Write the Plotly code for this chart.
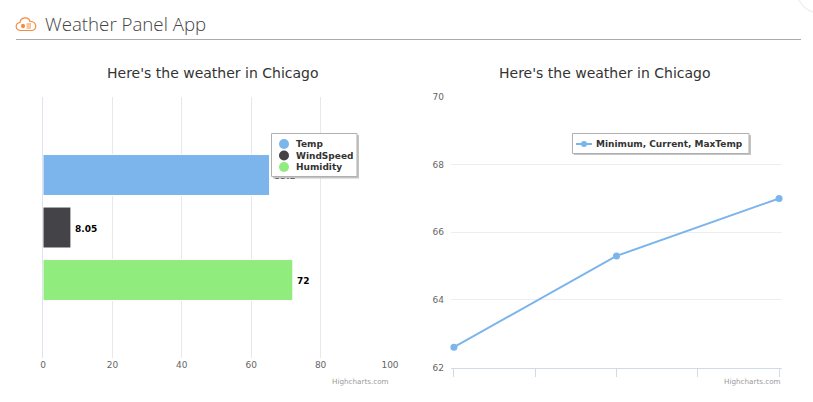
import plotly.graph_objects as go
from plotly.subplots import make_subplots

W, H = 813, 402

page_title = "Weather Panel App"
chart_title = "Here's the weather in Chicago"
credit = "Highcharts.com"

# left chart
bar_names = ["Temp", "WindSpeed", "Humidity"]
bar_slots = [0, 1, 2]
bar_values = [65.3, 8.05, 72]
bar_colors = ["#7cb5ec", "#434348", "#90ed7d"]
bar_ticks = [0, 20, 40, 60, 80, 100]

# right chart
line_name = "Minimum, Current, MaxTemp"
line_x = [0, 1, 2]
line_values = [62.6, 65.3, 67]
line_xticks = [0, 0.5, 1, 1.5, 2]
line_yticks = [62, 64, 66, 68, 70]

TICK_FONT = dict(family="DejaVu Sans", size=9, color="#666666")
BOLD = dict(family="DejaVu Sans", size=9, color="#333333", weight="bold")


def px(x):
    return x / W


def py(y):
    return 1 - y / H


def rect(x0, y0, x1, y1, **kw):
    return dict(type="rect", xref="paper", yref="paper", x0=px(x0), x1=px(x1), y0=py(y0), y1=py(y1), **kw)


def hline(x0, x1, y, color, width=1):
    return dict(type="line", xref="paper", yref="paper", x0=px(x0), x1=px(x1), y0=py(y), y1=py(y),
                line=dict(color=color, width=width))


def text(x, y, s, font, anchor="left"):
    return dict(xref="paper", yref="paper", x=px(x), y=py(y), text=s, showarrow=False, font=font,
                xanchor=anchor, yanchor="middle", borderpad=0)


def path(points, **kw):
    # points are (command, x, y, x, y...) in pixels, plotly wants paper units
    d = ""
    for p in points:
        d += p[0]
        vals = p[1:]
        for i in range(0, len(vals), 2):
            d += " %.5f,%.5f " % (px(vals[i]), py(vals[i + 1]))
    return dict(type="path", xref="paper", yref="paper", path=d, **kw)


fig = make_subplots(rows=1, cols=2)

for name, slot, val, col in zip(bar_names, bar_slots, bar_values, bar_colors):
    fig.add_trace(go.Bar(x=[val], y=[slot], name=name, orientation="h", width=0.78,
                         marker=dict(color=col, line=dict(color="#ffffff", width=1))), row=1, col=1)

# value labels sit a touch below the bar centre, as a trace so the legend box covers them
# the see-through marker is only there to push the text away from the bar end
fig.add_trace(go.Scatter(x=bar_values, y=[s + 0.04 for s in bar_slots], mode="markers+text",
                         text=[str(v) for v in bar_values], textposition="middle right", cliponaxis=False,
                         marker=dict(size=5, color="rgba(0,0,0,0)"),
                         textfont=dict(family="DejaVu Sans", size=9, color="#000000", weight="bold")),
              row=1, col=1)

fig.add_trace(go.Scatter(x=line_x, y=line_values, name=line_name, mode="lines+markers",
                         line=dict(color="#7cb5ec", width=2), marker=dict(color="#7cb5ec", size=7),
                         cliponaxis=False), row=1, col=2)

fig.update_xaxes(domain=[px(43), px(390)], range=[0, 100], tickvals=bar_ticks, showgrid=True, gridcolor="#e8e8e8",
                 gridwidth=1, zeroline=False, showline=False, ticks="", tickfont=TICK_FONT, automargin=False,
                 row=1, col=1)
fig.update_yaxes(domain=[py(357.5), py(97)], range=[3.476, -1.486], showticklabels=False,
                 showgrid=False, zeroline=False, showline=True, linecolor="#dde5f0", linewidth=1, ticks="",
                 automargin=False, row=1, col=1)

fig.update_xaxes(domain=[px(451), px(782)], range=[-0.018, 2.018], tickvals=line_xticks, ticktext=[""] * 5,
                 showgrid=False, zeroline=False, showline=True, linecolor="#d0daea", linewidth=1, ticks="outside",
                 ticklen=8, tickcolor="#d0daea", automargin=False, row=1, col=2)
fig.update_yaxes(domain=[py(367.5), py(97)], range=[62, 70], tickvals=line_yticks, showgrid=True, gridcolor="#eeeeee",
                 gridwidth=1, zeroline=False, showline=False, ticks="", tickfont=TICK_FONT, ticklabelstandoff=6,
                 automargin=False, row=1, col=2)

shapes = [
    hline(16, 801, 39.5, "#aaaaaa"),
    # cloud icon of the page header
    path([("M", 21, 30.5), ("C", 15, 30.5, 14.5, 23, 20, 22.5), ("C", 20.5, 17, 28.5, 16, 30, 21.5),
          ("C", 37, 21, 38, 30.5, 31, 30.5), ("Z",)], line=dict(color="#f58b3f", width=1.2)),
    path([("M", 21, 26), ("C", 21, 23, 25, 23, 25, 26), ("C", 25, 29, 21, 29, 21, 26), ("Z",)],
         line=dict(width=0), fillcolor="#f58b3f"),
    hline(26.5, 31, 24, "#f58b3f"),
    hline(26.5, 31, 26, "#f58b3f"),
    hline(26.5, 31, 28, "#f58b3f"),
    # faint corner at the top right of the screenshot
    path([("M", 799, 0), ("C", 802, 6, 807, 10, 813, 12)], line=dict(color="#f0f0f0", width=1.5)),
    # legend boxes
    rect(273, 135, 359, 178.5, fillcolor="#c4c4c4", line=dict(width=0), layer="above"),
    rect(271.5, 133.5, 357, 176.5, fillcolor="#ffffff", line=dict(color="#b0b0b0", width=1), layer="above"),
    rect(574, 135, 751, 155, fillcolor="#c4c4c4", line=dict(width=0), layer="above"),
    rect(572.5, 133.5, 749, 153.5, fillcolor="#ffffff", line=dict(color="#b0b0b0", width=1), layer="above"),
    hline(576, 592, 144, "#7cb5ec", 2),
    dict(type="circle", xref="paper", yref="paper", x0=px(581), x1=px(587), y0=py(147), y1=py(141),
         fillcolor="#7cb5ec", line=dict(width=0), layer="above"),
]
for name, col, y in zip(bar_names, bar_colors, [144, 155.5, 167]):
    shapes.append(dict(type="circle", xref="paper", yref="paper", x0=px(279), x1=px(289), y0=py(y + 5), y1=py(y - 5),
                       fillcolor=col, line=dict(width=0), layer="above"))

annotations = [
    text(44, 23, page_title, dict(family="Open Sans", size=18.7, color="#444444", weight=300)),
    text(212.5, 73, chart_title, dict(family="DejaVu Sans", size=14, color="#333333"), "center"),
    text(605, 73, chart_title, dict(family="DejaVu Sans", size=14, color="#333333"), "center"),
    text(390, 381, credit, dict(family="DejaVu Sans", size=7.2, color="#999999"), "right"),
    text(782, 381, credit, dict(family="DejaVu Sans", size=7.2, color="#999999"), "right"),
    text(595, 144, line_name, BOLD),
]
for name, y in zip(bar_names, [144, 155.5, 167]):
    annotations.append(text(294.5, y, name, BOLD))

fig.update_layout(width=W, height=H, margin=dict(l=0, r=0, t=0, b=0, autoexpand=False), paper_bgcolor="#ffffff",
                  plot_bgcolor="#ffffff", showlegend=False, shapes=shapes, annotations=annotations)

fig.write_html("out.html", config=dict(displayModeBar=False),
               post_script="document.body.style.margin='0';")
